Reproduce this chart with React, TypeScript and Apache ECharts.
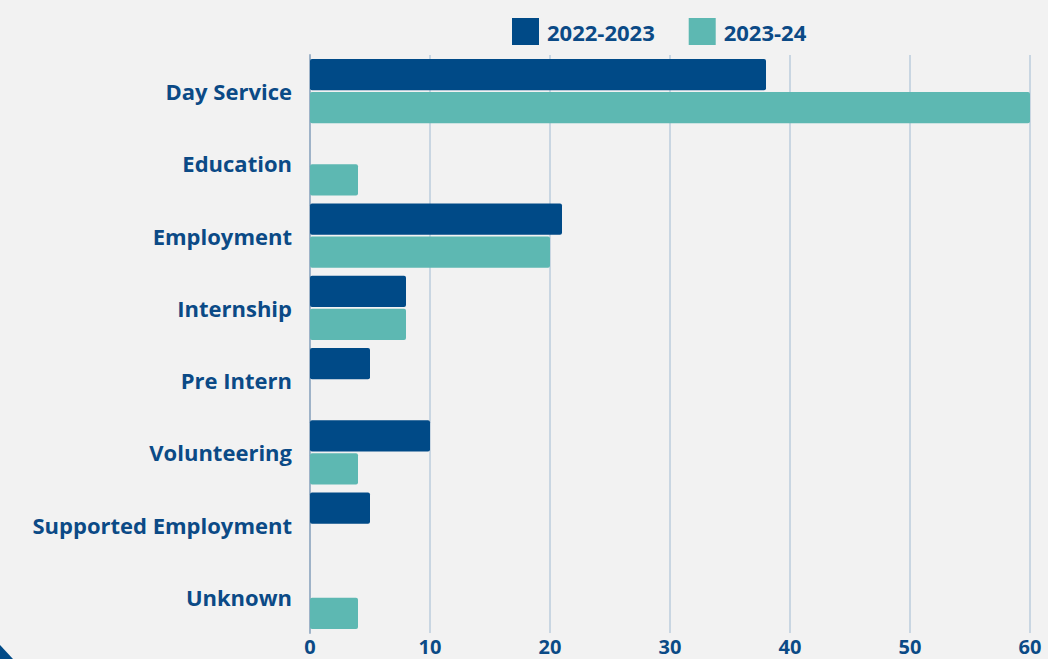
import React, { useEffect, useRef } from "react";
import * as echarts from "echarts";

const categories = [
  "Day Service",
  "Education",
  "Employment",
  "Internship",
  "Pre Intern",
  "Volunteering",
  "Supported Employment",
  "Unknown",
];
const series2022 = [38, 0, 21, 8, 5, 10, 5, 0];
const series2023 = [60, 4, 20, 8, 0, 4, 0, 4];
const xTicks = [0, 10, 20, 30, 40, 50, 60];

const DARK = "#004a87";
const TEAL = "#5db8b2";
const TEXT = "#0b4a86";
const FONT = "'Open Sans', 'DejaVu Sans', sans-serif";

export default function App() {
  const ref = useRef<HTMLDivElement>(null);
  useEffect(() => {
    if (!ref.current) return;
    const chart = echarts.init(ref.current, undefined, { renderer: "svg" });
    chart.setOption({
      animation: false,
      backgroundColor: "#f2f2f2",
      legend: {
        top: 13,
        left: 507,
        itemWidth: 27,
        itemHeight: 27,
        itemGap: 34,
        icon: "rect",
        textStyle: { color: TEXT, fontSize: 22, fontWeight: "bold", fontFamily: FONT, padding: [0, 0, 0, 3] },
        data: ["2022-2023", "2023-24"],
      },
      grid: { left: 310, right: 18, top: 55, bottom: 26, containLabel: false },
      xAxis: {
        type: "value",
        min: xTicks[0],
        max: xTicks[xTicks.length - 1],
        interval: 10,
        axisLine: { show: false },
        axisTick: { show: false },
        splitLine: { show: true, lineStyle: { color: "#c9d6e2", width: 2 } },
        axisLabel: {
          color: TEXT,
          fontSize: 20,
          fontWeight: "bold",
          fontFamily: FONT,
          margin: 3,
        },
      },
      yAxis: {
        type: "category",
        inverse: true,
        data: categories,
        axisLine: { show: true, lineStyle: { color: "#9fb3c8", width: 2 } },
        axisTick: { show: false },
        axisLabel: {
          color: TEXT,
          fontSize: 22,
          fontWeight: "bold",
          fontFamily: FONT,
          margin: 18,
          padding: [0, 0, 4, 0],
        },
      },
      series: [
        {
          name: "2022-2023",
          type: "bar",
          data: series2022,
          itemStyle: { color: DARK, borderRadius: 2 },
          barCategoryGap: "11%",
          barGap: "6%",
        },
        {
          name: "2023-24",
          type: "bar",
          data: series2023,
          itemStyle: { color: TEAL, borderRadius: 2 },
          barCategoryGap: "11%",
          barGap: "6%",
        },
      ],
      graphic: [
        {
          type: "polygon",
          shape: { points: [[0, 645], [13, 659], [0, 659]] },
          style: { fill: DARK },
        },
      ],
    });
    return () => chart.dispose();
  }, []);
  return (
    <div
      ref={ref}
      style={{ position: "fixed", left: 0, top: 0, width: 1048, height: 659 }}
    />
  );
}
